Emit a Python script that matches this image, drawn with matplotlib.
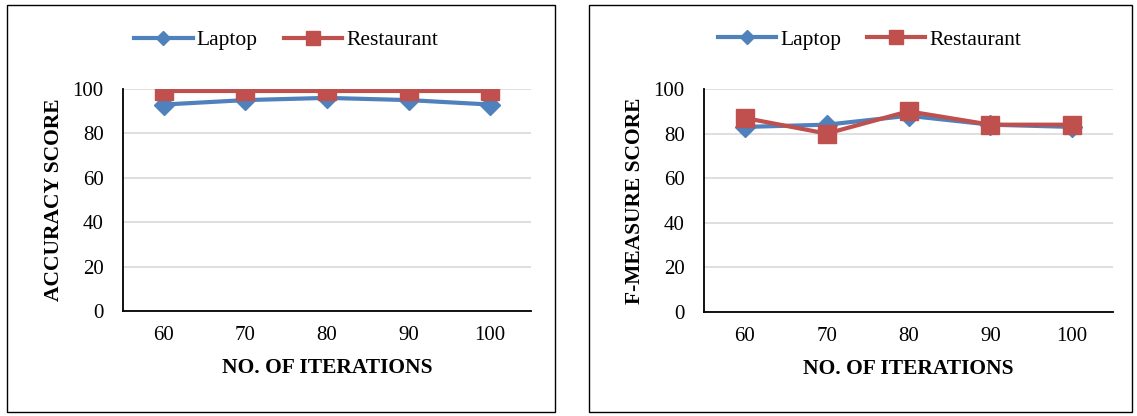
import matplotlib.pyplot as plt
from matplotlib.patches import Rectangle

plt.rcParams['font.family'] = ['Liberation Serif', 'DejaVu Serif']

iterations = ['60', '70', '80', '90', '100']

acc_laptop = [93, 95, 96, 95, 93]
acc_restaurant = [99, 99, 99, 99, 99]

f_laptop = [83, 84, 88, 84, 83]
f_restaurant = [87, 80, 90, 84, 84]

blue = '#4F81BD'
red = '#C0504D'

W, H = 1137, 416
fig = plt.figure(figsize=(W / 100, H / 100), dpi=100)


def px_axes(x0, x1, ytop, ybot):
    return fig.add_axes([x0 / W, 1 - ybot / H, (x1 - x0) / W, (ybot - ytop) / H])


def draw_panel(ax, laptop, restaurant, ylab, leg_x):
    x = range(len(iterations))
    ax.plot(x, laptop, color=blue, lw=3, marker='D', ms=10,
            label='Laptop', zorder=3)
    ax.plot(x, restaurant, color=red, lw=3, marker='s', ms=12.5,
            label='Restaurant', zorder=4)
    ax.set_xlim(-0.5, len(iterations) - 0.5)
    ax.set_ylim(0, 100)
    ax.set_yticks(range(0, 101, 20))
    ax.set_xticks(list(x))
    ax.set_xticklabels(iterations)
    ax.tick_params(length=0, labelsize=15)
    ax.tick_params(axis='y', pad=14)
    ax.tick_params(axis='x', pad=11)
    ax.grid(axis='y', color='#d9d9d9', lw=1.2)
    ax.set_axisbelow(True)
    for s in ['top', 'right']:
        ax.spines[s].set_visible(False)
    for s in ['left', 'bottom']:
        ax.spines[s].set_linewidth(1.3)
        ax.spines[s].set_color('black')
    ax.set_xlabel('NO. OF ITERATIONS', fontsize=15.5, fontweight='bold', labelpad=9)
    ax.set_ylabel(ylab, fontsize=15.5, fontweight='bold', labelpad=6)
    ax.legend(loc='center', bbox_to_anchor=(leg_x, 1.22), ncol=2, frameon=False,
              fontsize=15.5, handlelength=2.7, handletextpad=0.2,
              columnspacing=1.2, markerscale=0.75)


ax1 = px_axes(123, 531, 89, 311)
draw_panel(ax1, acc_laptop, acc_restaurant, 'ACCURACY SCORE', 0.40)

ax2 = px_axes(704, 1113, 89, 312)
draw_panel(ax2, f_laptop, f_restaurant, 'F-MEASURE SCORE', 0.405)

# chart borders
for x0, x1 in [(7, 555), (589, 1132)]:
    fig.patches.append(Rectangle((x0 / W, 1 - 412 / H), (x1 - x0) / W, 407 / H,
                                 transform=fig.transFigure, fill=False,
                                 edgecolor='black', lw=1))

fig.savefig('out.png', dpi=100)
